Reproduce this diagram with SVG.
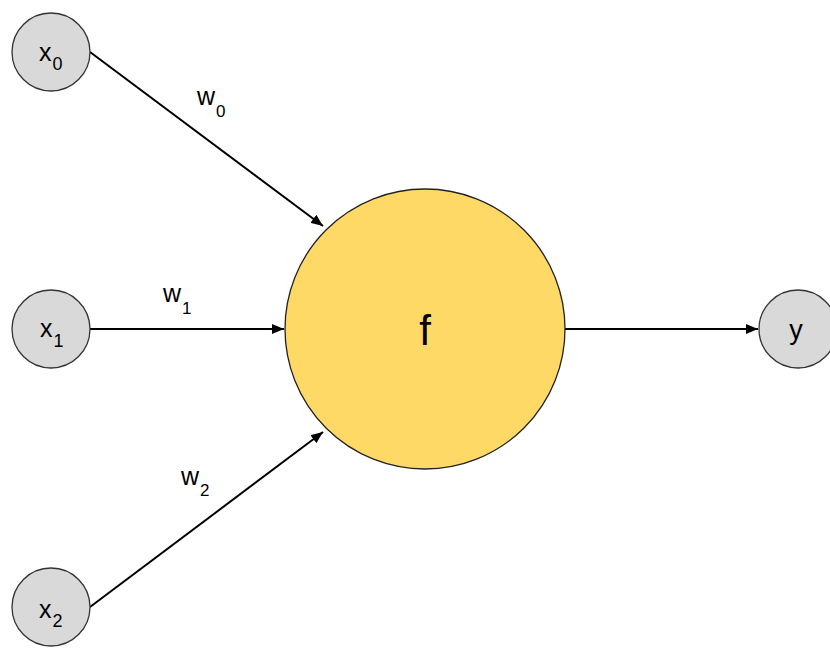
<svg xmlns="http://www.w3.org/2000/svg" width="830" height="650" viewBox="0 0 830 650">
<defs>
<style>
.in{fill:#d9d9d9;stroke:#333;stroke-width:1.3}
.t{font-family:"Liberation Sans",Arial,sans-serif;font-size:25px;fill:#000}
.w{font-size:25px}
.s{font-size:18px}
.sw{font-size:17px}
.e{stroke:#000;stroke-width:2;fill:none;marker-end:url(#ar)}
</style>
<marker id="ar" viewBox="0 0 12 10" refX="12" refY="5" markerWidth="12" markerHeight="10" markerUnits="userSpaceOnUse" orient="auto">
<path d="M0,0 L12,5 L0,10 Z" fill="#000"/>
</marker>
</defs>
<rect width="830" height="650" fill="#fff"/>
<g id="edges">
<line class="e" x1="90" y1="52" x2="323" y2="226"/>
<line class="e" x1="90" y1="329" x2="284" y2="329"/>
<line class="e" x1="90" y1="607" x2="323" y2="432"/>
<line class="e" x1="565" y1="329" x2="758" y2="329"/>
<text class="t w" x="197" y="105">w<tspan class="sw" dx="1" dy="12">0</tspan></text>
<text class="t w" x="163" y="302">w<tspan class="sw" dx="1" dy="12">1</tspan></text>
<text class="t w" x="181" y="485">w<tspan class="sw" dx="1" dy="11">2</tspan></text>
</g>
<g id="x0">
<circle class="in" cx="51" cy="52" r="39"/>
<text class="t" x="39" y="61">x<tspan class="s" dx="1" dy="9">0</tspan></text>
</g>
<g id="x1">
<circle class="in" cx="51" cy="329" r="39"/>
<text class="t" x="40" y="337">x<tspan class="s" dx="1" dy="10">1</tspan></text>
</g>
<g id="x2">
<circle class="in" cx="51" cy="607" r="39"/>
<text class="t" x="39" y="618">x<tspan class="s" dx="1" dy="9">2</tspan></text>
</g>
<g id="f">
<circle cx="425" cy="329" r="140" fill="#ffd966" stroke="#222" stroke-width="1.3"/>
<text class="t" x="425" y="345" text-anchor="middle" style="font-size:42px">f</text>
</g>
<g id="y">
<circle class="in" cx="798" cy="329" r="39"/>
<text class="t" x="796" y="339" text-anchor="middle" style="font-size:27px">y</text>
</g>
</svg>
